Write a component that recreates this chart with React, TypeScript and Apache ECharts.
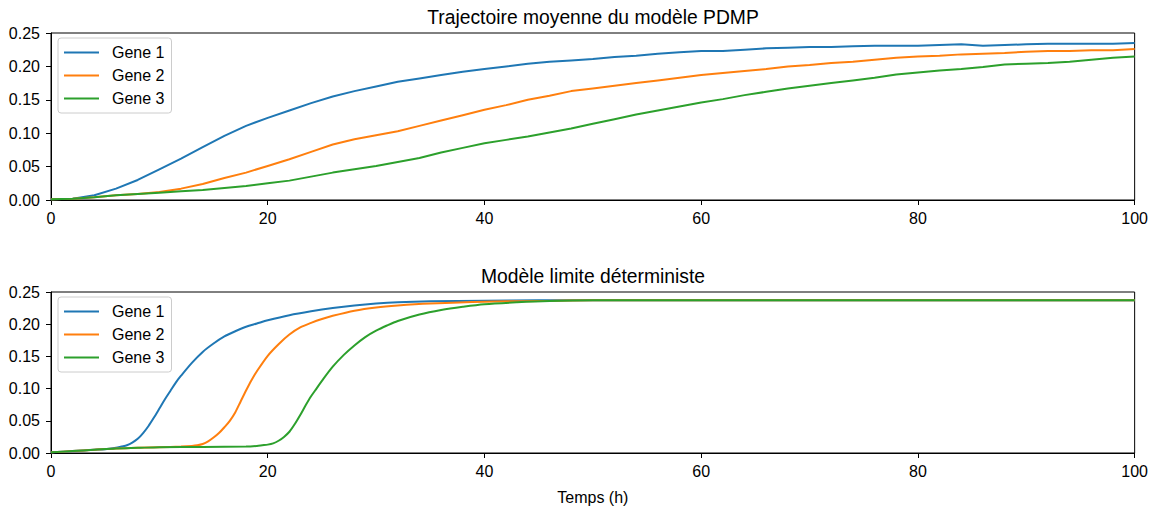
import React, { useEffect, useRef } from "react";
import * as echarts from "echarts";

// ---------- Data ----------
const pdmpX = [0, 2, 4, 6, 8, 10, 12, 14, 16, 18, 20, 22, 24, 26, 28, 30, 32, 34, 36, 38, 40, 42, 44, 46, 48, 50, 52, 54, 56, 58, 60, 62, 64, 66, 68, 70, 72, 74, 76, 78, 80, 82, 84, 86, 88, 90, 92, 94, 96, 98, 100];
const pdmpGene1 = [0.001, 0.002, 0.007, 0.017, 0.03, 0.046, 0.062, 0.079, 0.096, 0.111, 0.123, 0.134, 0.145, 0.155, 0.163, 0.17, 0.177, 0.182, 0.187, 0.192, 0.196, 0.2, 0.204, 0.207, 0.209, 0.211, 0.214, 0.216, 0.219, 0.221, 0.223, 0.223, 0.225, 0.227, 0.228, 0.229, 0.229, 0.23, 0.231, 0.231, 0.231, 0.232, 0.233, 0.231, 0.232, 0.233, 0.234, 0.234, 0.234, 0.234, 0.235];
const pdmpGene2 = [0.001, 0.002, 0.004, 0.007, 0.009, 0.012, 0.017, 0.024, 0.033, 0.041, 0.051, 0.061, 0.072, 0.083, 0.091, 0.097, 0.103, 0.111, 0.119, 0.127, 0.135, 0.142, 0.15, 0.156, 0.163, 0.167, 0.171, 0.175, 0.179, 0.183, 0.187, 0.19, 0.193, 0.196, 0.2, 0.202, 0.205, 0.207, 0.21, 0.213, 0.215, 0.216, 0.218, 0.219, 0.22, 0.222, 0.223, 0.223, 0.224, 0.224, 0.226];
const pdmpGene3 = [0.001, 0.002, 0.004, 0.007, 0.009, 0.011, 0.013, 0.015, 0.018, 0.021, 0.025, 0.029, 0.035, 0.041, 0.046, 0.051, 0.057, 0.063, 0.071, 0.078, 0.085, 0.09, 0.095, 0.101, 0.107, 0.114, 0.121, 0.128, 0.134, 0.14, 0.146, 0.151, 0.157, 0.162, 0.167, 0.171, 0.175, 0.179, 0.183, 0.188, 0.191, 0.194, 0.196, 0.199, 0.203, 0.204, 0.205, 0.207, 0.21, 0.213, 0.215];

const detGene1X = [0, 1, 2, 3, 4, 5, 6, 6.5, 7, 7.5, 8, 8.5, 9, 9.5, 10, 10.5, 11, 11.5, 12, 13, 14, 15, 16, 17, 18, 19, 20, 22, 24, 26, 28, 30, 32, 35, 40, 45, 50, 100];
const detGene1Y = [0.001, 0.002, 0.003, 0.004, 0.005, 0.006, 0.008, 0.01, 0.012, 0.016, 0.022, 0.031, 0.042, 0.055, 0.069, 0.083, 0.096, 0.109, 0.12, 0.14, 0.157, 0.17, 0.181, 0.189, 0.196, 0.201, 0.206, 0.214, 0.22, 0.225, 0.229, 0.232, 0.234, 0.2355, 0.2365, 0.237, 0.237, 0.237];
const detGene2X = [0, 2, 4, 6, 8, 10, 12, 13, 13.5, 14, 14.5, 15, 15.5, 16, 16.5, 17, 17.5, 18, 18.5, 19, 20, 21, 22, 23, 24, 25, 26, 28, 30, 32, 35, 40, 45, 50, 100];
const detGene2Y = [0.001, 0.003, 0.005, 0.007, 0.008, 0.009, 0.01, 0.011, 0.012, 0.014, 0.018, 0.024, 0.031, 0.04, 0.05, 0.063, 0.08, 0.097, 0.113, 0.127, 0.151, 0.169, 0.184, 0.195, 0.202, 0.208, 0.213, 0.221, 0.226, 0.229, 0.232, 0.235, 0.236, 0.237, 0.237];
const detGene3X = [0, 2, 4, 6, 8, 10, 14, 18, 19, 19.5, 20, 20.5, 21, 21.5, 22, 22.5, 23, 23.5, 24, 24.5, 25, 26, 27, 28, 29, 30, 31, 32, 34, 36, 38, 40, 43, 46, 50, 100];
const detGene3Y = [0.001, 0.003, 0.005, 0.007, 0.008, 0.009, 0.0095, 0.01, 0.011, 0.012, 0.013, 0.015, 0.019, 0.025, 0.033, 0.045, 0.059, 0.074, 0.088, 0.1, 0.112, 0.134, 0.152, 0.167, 0.18, 0.19, 0.198, 0.205, 0.215, 0.222, 0.227, 0.231, 0.234, 0.236, 0.237, 0.237];

const geneNames = ["Gene 1", "Gene 2", "Gene 3"];
const geneColors = ["#1f77b4", "#ff7f0e", "#2ca02c"];
const titles = ["Trajectoire moyenne du modèle PDMP", "Modèle limite déterministe"];
const xLabel = "Temps (h)";

const FONT = "'Liberation Sans', Arial, Helvetica, sans-serif";

const zip = (xs: number[], ys: number[]) => xs.map((x, i) => [x, ys[i]]);

export default function App() {
  const ref = useRef<HTMLDivElement>(null);
  useEffect(() => {
    if (!ref.current) return;
    const chart = echarts.init(ref.current, null, { renderer: "svg" });

    const gridLeft = 51;
    const gridWidth = 1084;
    const tops = [33, 292];
    const h = 167;

    const xAxis = tops.map((_, i) => ({
      type: "value",
      gridIndex: i,
      min: 0,
      max: 100,
      interval: 20,
      splitLine: { show: false },
      axisLine: { show: true, lineStyle: { color: "#000", width: 1 } },
      axisTick: { show: true, length: 5, lineStyle: { color: "#000" } },
      axisLabel: { color: "#000", fontSize: 16, fontFamily: FONT, margin: 10 },
      name: i === 1 ? xLabel : "",
      nameLocation: "middle",
      nameGap: 36,
      nameTextStyle: { color: "#000", fontSize: 16, fontFamily: FONT },
    }));
    const yAxis = tops.map((_, i) => ({
      type: "value",
      gridIndex: i,
      min: 0,
      max: 0.25,
      interval: 0.05,
      splitLine: { show: false },
      axisLine: { show: true, lineStyle: { color: "#000", width: 1 } },
      axisTick: { show: true, length: 5, lineStyle: { color: "#000" } },
      axisLabel: {
        color: "#000",
        fontSize: 16,
        fontFamily: FONT,
        margin: 11,
        formatter: (v: number) => v.toFixed(2),
      },
    }));

    const mk = (name: string, color: string, data: number[][], idx: number, smooth: number | boolean) => ({
      type: "line",
      name,
      xAxisIndex: idx,
      yAxisIndex: idx,
      data,
      showSymbol: false,
      symbol: "none",
      smooth,
      lineStyle: { color, width: 2 },
      itemStyle: { color },
    });

    const series = [
      mk(geneNames[0], geneColors[0], zip(pdmpX, pdmpGene1), 0, false),
      mk(geneNames[1], geneColors[1], zip(pdmpX, pdmpGene2), 0, false),
      mk(geneNames[2], geneColors[2], zip(pdmpX, pdmpGene3), 0, false),
      mk(geneNames[0], geneColors[0], zip(detGene1X, detGene1Y), 1, 0.3),
      mk(geneNames[1], geneColors[1], zip(detGene2X, detGene2Y), 1, 0.3),
      mk(geneNames[2], geneColors[2], zip(detGene3X, detGene3Y), 1, 0.3),
    ];

    const legend = tops.map((t) => ({
      data: geneNames,
      orient: "vertical",
      left: 58,
      top: t + 5,
      icon: "rect",
      itemWidth: 35,
      itemHeight: 2,
      itemGap: 6,
      padding: [6, 7, 6, 6],
      borderColor: "#cccccc",
      borderWidth: 1,
      borderRadius: 3,
      backgroundColor: "rgba(255,255,255,0.8)",
      selectedMode: false,
      textStyle: {
        color: "#000",
        fontSize: 16,
        fontFamily: FONT,
        lineHeight: 17,
        padding: [0, 0, 0, 8],
      },
    }));

    chart.setOption({
      animation: false,
      backgroundColor: "#fff",
      grid: tops.map((t) => ({
        left: gridLeft,
        top: t,
        width: gridWidth,
        height: h,
        show: true,
        borderColor: "#000",
        borderWidth: 1,
        backgroundColor: "transparent",
        containLabel: false,
      })),
      xAxis,
      yAxis,
      legend,
      series,
      graphic: [
        {
          type: "text",
          x: gridLeft + gridWidth / 2,
          y: 17,
          style: { text: titles[0], textAlign: "center", textVerticalAlign: "middle", fontSize: 19.3, fontFamily: FONT, fill: "#000" },
        },
        {
          type: "text",
          x: gridLeft + gridWidth / 2,
          y: 276,
          style: { text: titles[1], textAlign: "center", textVerticalAlign: "middle", fontSize: 19.3, fontFamily: FONT, fill: "#000" },
        },
      ],
    });
    return () => chart.dispose();
  }, []);
  return (
    <div
      ref={ref}
      style={{ position: "fixed", left: 0, top: 0, width: 1151, height: 506, background: "#fff" }}
    />
  );
}
